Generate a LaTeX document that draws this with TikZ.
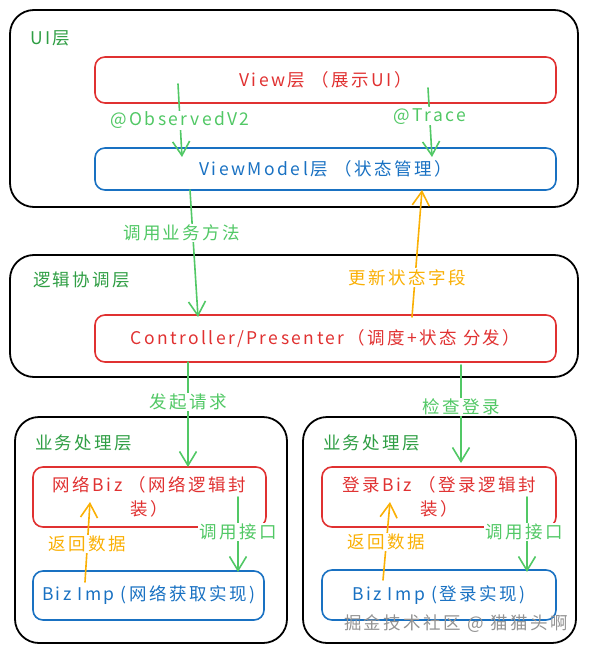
\documentclass[tikz,border=0pt]{standalone}
\usepackage{fontspec}
\setmainfont{Noto Sans CJK SC}
\newfontfamily\hand[LetterSpace=14]{Noto Sans CJK SC}
\usetikzlibrary{arrows.meta}
\definecolor{sketchred}{HTML}{E03131}
\definecolor{sketchblue}{HTML}{1971C2}
\definecolor{titlegreen}{HTML}{2F9E44}
\definecolor{flowgreen}{HTML}{51C865}
\definecolor{flowyellow}{HTML}{FAB005}

\begin{document}
\begin{tikzpicture}[x=1pt,y=-1pt,
    every node/.style={font=\hand\fontsize{17.5}{24}\selectfont, inner sep=2pt, outer sep=0pt},
    layer/.style={draw=black, line width=1.8pt, rounded corners=24pt},
    title/.style={text=titlegreen, anchor=west},
    redbox/.style={draw=sketchred, text=sketchred, line width=1.6pt, rounded corners=10pt, align=center},
    bluebox/.style={draw=sketchblue, text=sketchblue, line width=1.6pt, rounded corners=10pt, align=center},
    flow/.style={draw=flowgreen, line width=1.6pt, line cap=round, -{Straight Barb[length=14pt,width=17pt,line width=1.6pt]}},
    back/.style={flow, draw=flowyellow},
    lbl/.style={fill=white, inner sep=1pt, text=flowgreen},
    backlbl/.style={lbl, text=flowyellow}
  ]
    \useasboundingbox (0,0) rectangle (588,652);

    \node[layer, minimum width=568pt, minimum height=197pt] (uilayer) at (294,108.5) {};
    \node[title] (uititle) at (28,38) {UI层};
    \node[redbox, minimum width=461pt, minimum height=46pt] (view) at (325.5,80) {View层 （展示UI）};
    \node[bluebox, minimum width=461pt, minimum height=42pt] (vm) at (325.5,169) {ViewModel层 （状态管理）};

    \node[layer, minimum width=568pt, minimum height=122pt] (logic) at (294,316) {};
    \node[title] (logictitle) at (31,280) {逻辑协调层};
    \node[redbox, minimum width=461pt, minimum height=47pt] (ctrl) at (325.5,338.5) {Controller/Presenter（调度+状态 分发）};

    \node[layer, minimum width=272pt, minimum height=226pt] (netlayer) at (151,530) {};
    \node[title] (nettitle) at (33,443) {业务处理层};
    \node[redbox, minimum width=233pt, minimum height=60pt] (netbiz) at (149.5,497) {网络Biz （网络逻辑封\\装）};
    \node[bluebox, minimum width=231pt, minimum height=49pt] (netimp) at (148.5,595.5) {Biz\hspace{6pt}Imp (网络获取实现)};

    \node[layer, minimum width=273pt, minimum height=226pt] (loginlayer) at (439.5,530) {};
    \node[title] (logintitle) at (321,443) {业务处理层};
    \node[redbox, minimum width=234pt, minimum height=60pt] (loginbiz) at (439,497) {登录Biz （登录逻辑封\\装）};
    \node[bluebox, minimum width=234pt, minimum height=50pt] (loginimp) at (439,595) {Biz\hspace{6pt}Imp (登录实现)};

    \coordinate (obsA) at (178,84);   \coordinate (obsB) at (182,157);
    \coordinate (traceA) at (428,88); \coordinate (traceB) at (432,157);
    \coordinate (callA) at (190,190); \coordinate (callB) at (198,317);
    \coordinate (updA) at (412,317);  \coordinate (updB) at (422,190);
    \coordinate (reqA) at (188,362);  \coordinate (reqB) at (188,467);
    \coordinate (chkA) at (461,365);  \coordinate (chkB) at (461,463);
    \coordinate (netretA) at (85,582);   \coordinate (netretB) at (90,502);
    \coordinate (netcallA) at (238,497); \coordinate (netcallB) at (238,572);
    \coordinate (logretA) at (383,580);  \coordinate (logretB) at (390,502);
    \coordinate (logcallA) at (527,497); \coordinate (logcallB) at (527,572);

    \draw[flow] (obsA) -- node[lbl, pos=.5] (obslbl) {@ObservedV2} (obsB);
    \draw[flow] (traceA) -- node[lbl, pos=.41] (tracelbl) {@Trace} (traceB);
    \draw[flow] (callA) -- node[lbl, pos=.34, xshift=-11pt] (calllbl) {调用业务方法} (callB);
    \draw[back] (updA) -- node[backlbl, pos=.31, xshift=-8pt] (updlbl) {更新状态字段} (updB);
    \draw[flow] (reqA) -- node[lbl, pos=.38] (reqlbl) {发起请求} (reqB);
    \draw[flow] (chkA) -- node[lbl, pos=.43] (chklbl) {检查登录} (chkB);
    \draw[back] (netretA) -- node[backlbl, pos=.475] (netretlbl) {返回数据} (netretB);
    \draw[flow] (netcallA) -- node[lbl, pos=.47] (netcalllbl) {调用接口} (netcallB);
    \draw[back] (logretA) -- node[backlbl, pos=.49] (logretlbl) {返回数据} (logretB);
    \draw[flow] (logcallA) -- node[lbl, pos=.47, xshift=-3pt] (logcalllbl) {调用接口} (logcallB);

    \node[text=gray!85] (mark) at (456,624) {掘金技术社区 @ 猫猫头啊};
  \end{tikzpicture}
\end{document}
